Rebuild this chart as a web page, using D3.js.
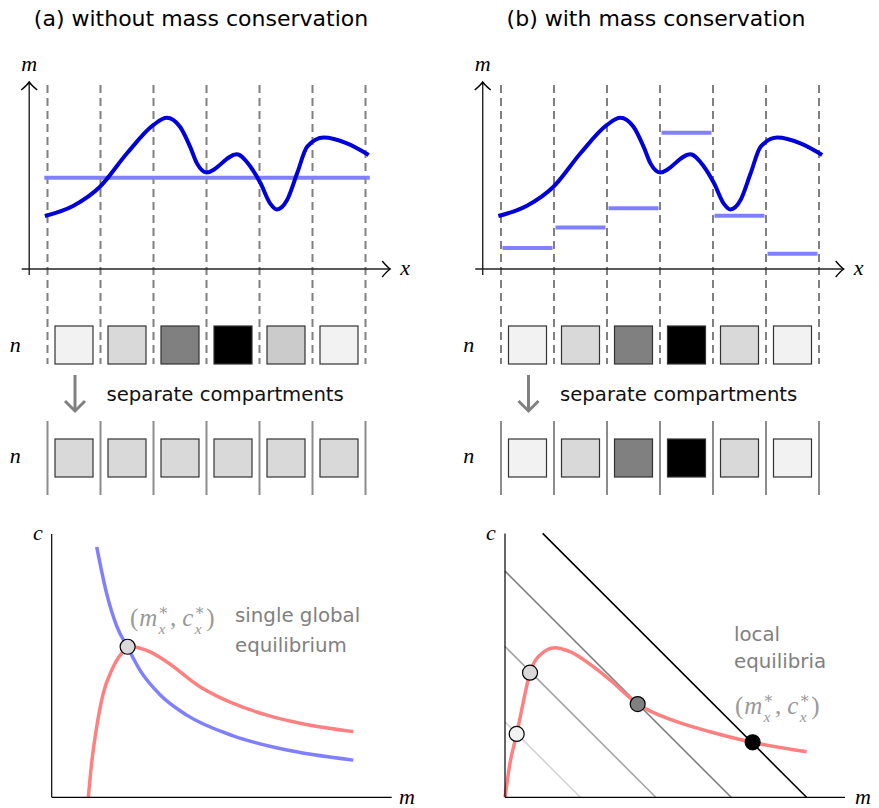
<!DOCTYPE html>
<html>
<head>
<meta charset="utf-8">
<script src="https://cdn.jsdelivr.net/npm/d3@7"></script>
<style>
  body { margin: 0; background: #fff; }
  .sans { font-family: "DejaVu Sans", sans-serif; }
  .math { font-family: "Liberation Serif", "DejaVu Serif", serif; font-style: italic; }
</style>
</head>
<body>
<svg id="chart" width="879" height="808"></svg>
<script>
// ---- data ----
// top row: concentration profile m(x), x in compartment units (0..6)
var profileX = [-0.05, 0.49, 0.99, 1.5, 2.0, 2.25, 2.5, 2.69, 2.82, 3.0, 3.57, 3.83, 4.02, 4.2, 4.33, 4.52, 4.71, 4.9, 5.21, 5.65, 6.06];
var profileM = [28.8, 34.4, 44.7, 62.9, 78.3, 82.2, 77.3, 66.5, 57.4, 52.5, 62.3, 55.6, 46.6, 35.7, 32.4, 37.5, 52, 66.5, 71.4, 68.3, 62];
var globalLevel = 49.6;                              // (a) single level
var localLevels = [11.4, 22.6, 33.0, 74.1, 29.0, 8.3]; // (b) one per compartment

// compartment shades (n)
var shadesA1 = ["#f2f2f2", "#d9d9d9", "#808080", "#000000", "#cbcbcb", "#f2f2f2"];
var shadesA2 = ["#d9d9d9", "#d9d9d9", "#d9d9d9", "#d9d9d9", "#d9d9d9", "#d9d9d9"];
var shadesB1 = ["#f2f2f2", "#d9d9d9", "#808080", "#000000", "#d9d9d9", "#f2f2f2"];
var shadesB2 = ["#f2f2f2", "#d9d9d9", "#808080", "#000000", "#d9d9d9", "#f2f2f2"];

// bottom (a): nullclines in (m, c)
var hypM = [1.5, 1.83, 2.17, 2.53, 2.94, 3.61, 4.5, 6.05, 7.72, 10.05];
var hypC = [8.35, 6.8, 5.7, 5.0, 4.24, 3.42, 2.74, 2.05, 1.6, 1.24];
var redAM = [1.22, 1.33, 1.5, 1.72, 2.0, 2.33, 2.61, 3.28, 3.83, 4.94, 6.05, 7.17, 8.28, 10.05];
var redAC = [0, 1.13, 2.35, 3.47, 4.24, 4.8, 5.02, 4.85, 4.52, 3.69, 3.13, 2.74, 2.47, 2.19];
var eqA = [2.53, 5.02];

// bottom (b): nullcline, mass lines m + c = n, local equilibria
var redBM = [0, 0.066, 0.155, 0.221, 0.332, 0.442, 0.663, 0.862, 1.171, 1.393, 1.76, 2.277, 2.719, 3.285, 4.001];
var redBC = [0, 0.451, 0.84, 1.158, 1.653, 1.865, 1.984, 1.931, 1.732, 1.556, 1.237, 1.003, 0.87, 0.729, 0.605];
var massTotals = [1, 2, 3, 4];
var massColors = ["#d4d4d4", "#a6a6a6", "#7f7f7f", "#000000"];
var eqBM = [0.155, 0.332, 1.76, 3.285];
var eqBC = [0.84, 1.653, 1.237, 0.729];
var eqBFill = ["#f2f2f2", "#d9d9d9", "#808080", "#000000"];

var svg = d3.select("#chart");
var BLUE = "#0000d8", LIGHTBLUE = "#8080ff", RED = "#ff8080", GRAY = "#808080";

// titles
svg.append("text").attr("class", "sans").attr("x", 201).attr("y", 26)
  .attr("text-anchor", "middle").style("font-size", "22px").text("(a) without mass conservation");
svg.append("text").attr("class", "sans").attr("x", 656).attr("y", 26)
  .attr("text-anchor", "middle").style("font-size", "22px").text("(b) with mass conservation");

function arrowHead(g, x, y, dir, color, w) {
  // open latex-like chevron, dir "up" / "right" / "down"
  var p;
  if (dir == "up") p = "M" + (x-8) + "," + (y+8) + " Q" + (x-2) + "," + (y+3) + " " + x + "," + y + " Q" + (x+2) + "," + (y+3) + " " + (x+8) + "," + (y+8);
  else if (dir == "right") p = "M" + (x-8) + "," + (y-8) + " Q" + (x-3) + "," + (y-2) + " " + x + "," + y + " Q" + (x-3) + "," + (y+2) + " " + (x-8) + "," + (y+8);
  else p = "M" + (x-10) + "," + (y-10) + " L" + x + "," + y + " L" + (x+10) + "," + (y-10);
  g.append("path").attr("d", p).attr("fill", "none").attr("stroke", color).attr("stroke-width", w);
}

function topPanel(ox, row1, row2, isB) {
  var g = svg.append("g");
  var x = d3.scaleLinear().domain([0, 6]).range([47.5 + ox, 365.5 + ox]);
  var y = d3.scaleLinear().domain([0, 100]).range([269, 85]);
  var ax = x(-0.345);

  // dashed compartment borders
  g.selectAll("line.dash").data(d3.range(7)).enter().append("line")
    .attr("x1", d => x(d)).attr("x2", d => x(d)).attr("y1", 85).attr("y2", 364)
    .attr("stroke", GRAY).attr("stroke-width", 2).attr("stroke-dasharray", "8,5");

  // axes
  g.append("line").attr("x1", ax).attr("x2", ax).attr("y1", 275).attr("y2", 82)
    .attr("stroke", "#222").attr("stroke-width", 1.4);
  g.append("line").attr("x1", ax - 7.5).attr("x2", ax + 361).attr("y1", y(0)).attr("y2", y(0))
    .attr("stroke", "#222").attr("stroke-width", 1.4);
  arrowHead(g, ax, 82, "up", "#000", 1.4);
  arrowHead(g, ax + 361, y(0), "right", "#000", 1.4);
  g.append("text").attr("class", "math").attr("x", ax).attr("y", 71).attr("text-anchor", "middle")
    .style("font-size", "22px").text("m");
  g.append("text").attr("class", "math").attr("x", ax + 371).attr("y", 275)
    .style("font-size", "22px").text("x");

  // level(s)
  if (!isB) {
    g.append("line").attr("x1", x(-0.06)).attr("x2", x(6.08)).attr("y1", y(globalLevel)).attr("y2", y(globalLevel))
      .attr("stroke", LIGHTBLUE).attr("stroke-width", 4);
  } else {
    g.selectAll("line.lvl").data(localLevels).enter().append("line")
      .attr("x1", (d, i) => x(i) + 1.5).attr("x2", (d, i) => x(i + 1) - 1.5)
      .attr("y1", d => y(d)).attr("y2", d => y(d))
      .attr("stroke", LIGHTBLUE).attr("stroke-width", 4);
  }

  // profile
  var line = d3.line().x(d => x(d[0])).y(d => y(d[1])).curve(d3.curveMonotoneX);
  g.append("path").attr("d", line(d3.zip(profileX, profileM)))
    .attr("fill", "none").attr("stroke", BLUE).attr("stroke-width", 4);

  // n row 1
  var bs = 38;
  g.selectAll("rect.r1").data(row1).enter().append("rect")
    .attr("x", (d, i) => x(i + 0.5) - bs / 2).attr("y", 345 - bs / 2).attr("width", bs).attr("height", bs)
    .attr("fill", d => d).attr("stroke", "#333").attr("stroke-width", 1.2);
  g.append("text").attr("class", "math").attr("x", ax - 14).attr("y", 352).attr("text-anchor", "middle")
    .style("font-size", "22px").text("n");

  // arrow + caption
  var axr = x(0.5) + 1;
  g.append("line").attr("x1", axr).attr("x2", axr).attr("y1", 375).attr("y2", 410)
    .attr("stroke", GRAY).attr("stroke-width", 3);
  arrowHead(g, axr, 411, "down", GRAY, 3);
  g.append("text").attr("class", "sans").attr("x", x(0) + 59).attr("y", 401)
    .style("font-size", "19.7px").attr("fill", "#111").text("separate compartments");

  // n row 2: solid walls
  g.selectAll("line.wall").data(d3.range(7)).enter().append("line")
    .attr("x1", d => x(d)).attr("x2", d => x(d)).attr("y1", 421).attr("y2", 495)
    .attr("stroke", "#8c8c8c").attr("stroke-width", 2);
  g.selectAll("rect.r2").data(row2).enter().append("rect")
    .attr("x", (d, i) => x(i + 0.5) - bs / 2).attr("y", 458 - bs / 2).attr("width", bs).attr("height", bs)
    .attr("fill", d => d).attr("stroke", "#333").attr("stroke-width", 1.2);
  g.append("text").attr("class", "math").attr("x", ax - 14).attr("y", 463).attr("text-anchor", "middle")
    .style("font-size", "22px").text("n");
}

topPanel(0, shadesA1, shadesA2, false);
topPanel(453.5, shadesB1, shadesB2, true);

// (m*_x, c*_x) as one text element; widths measured on a scratch text first
function eqLabel(x0, y0, size, color) {
  var pieces = [["(", "n"], ["m", "i"], ["*"], [",", "n"], ["c", "i"], ["*"], [")", "n"]];
  var scratch = svg.append("text");
  function width(str, fs, fam, st) {
    scratch.style("font-size", fs + "px").style("font-family", fam).style("font-style", st).text(str);
    return scratch.node().getComputedTextLength();
  }
  var serif = "Liberation Serif, serif", small = size * 0.62;
  var t = svg.append("text").attr("fill", color);
  var cx = x0;
  pieces.forEach(function (p) {
    if (p[0] == "*") {
      var w1 = width("\u2217", small, "DejaVu Serif", "normal");
      var w2 = width("x", small, serif, "italic");
      t.append("tspan").attr("x", cx).attr("y", y0 - size * 0.46).style("font-family", "DejaVu Serif")
        .style("font-size", small + "px").text("\u2217");
      t.append("tspan").attr("x", cx + 0.5).attr("y", y0 + size * 0.3).style("font-family", serif)
        .style("font-style", "italic").style("font-size", small + "px").text("x");
      cx += Math.max(w1, w2) + 1.5;
    } else {
      var st = p[1] == "i" ? "italic" : "normal";
      t.append("tspan").attr("x", cx).attr("y", y0).style("font-family", serif).style("font-style", st)
        .style("font-size", size + "px").text(p[0]);
      cx += width(p[0], size, serif, st) + (p[0] == "," ? 6 : 0.8);
    }
  });
  scratch.remove();
}

// ---- bottom (a) ----
(function () {
  var x = d3.scaleLinear().domain([0, 11.33]).range([51.7, 391.7]);
  var y = d3.scaleLinear().domain([0, 8.78]).range([797.3, 534]);
  var g = svg.append("g");
  var line = d3.line().x(d => x(d[0])).y(d => y(d[1])).curve(d3.curveMonotoneX);
  g.append("path").attr("d", line(d3.zip(hypM, hypC))).attr("fill", "none")
    .attr("stroke", LIGHTBLUE).attr("stroke-width", 3.5);
  g.append("path").attr("d", line(d3.zip(redAM, redAC))).attr("fill", "none")
    .attr("stroke", RED).attr("stroke-width", 3.5);
  g.append("line").attr("x1", x(0)).attr("x2", x(0)).attr("y1", y(8.78)).attr("y2", y(0)).attr("stroke", "#000").attr("stroke-width", 1.2);
  g.append("line").attr("x1", x(0)).attr("x2", x(11.33)).attr("y1", y(0)).attr("y2", y(0)).attr("stroke", "#000").attr("stroke-width", 1.2);
  g.append("circle").attr("cx", x(eqA[0])).attr("cy", y(eqA[1])).attr("r", 7.5)
    .attr("fill", "#d9d9d9").attr("stroke", "#000").attr("stroke-width", 1.2);
  g.append("text").attr("class", "math").attr("x", 38).attr("y", 540).attr("text-anchor", "middle").style("font-size", "22px").text("c");
  g.append("text").attr("class", "math").attr("x", 399).attr("y", 804).style("font-size", "22px").text("m");
  g.append("text").attr("class", "sans").attr("x", 235).attr("y", 622).attr("fill", GRAY).style("font-size", "19.8px").text("single global");
  g.append("text").attr("class", "sans").attr("x", 235).attr("y", 652).attr("fill", GRAY).style("font-size", "19.8px").text("equilibrium");
  eqLabel(130, 626, 25, "#999");
})();

// ---- bottom (b) ----
(function () {
  var x = d3.scaleLinear().domain([0, 4.51]).range([505, 845]);
  var y = d3.scaleLinear().domain([0, 3.5]).range([797.3, 533.4]);
  var g = svg.append("g");
  g.selectAll("line.mass").data(massTotals).enter().append("line")
    .attr("x1", d => x(Math.max(0, d - 3.5))).attr("y1", d => y(Math.min(d, 3.5)))
    .attr("x2", d => x(d)).attr("y2", y(0))
    .attr("stroke", (d, i) => massColors[i]).attr("stroke-width", 1.6);
  var line = d3.line().x(d => x(d[0])).y(d => y(d[1])).curve(d3.curveMonotoneX);
  g.append("path").attr("d", line(d3.zip(redBM, redBC))).attr("fill", "none")
    .attr("stroke", RED).attr("stroke-width", 3.5);
  g.append("line").attr("x1", x(0)).attr("x2", x(0)).attr("y1", y(3.5)).attr("y2", y(0)).attr("stroke", "#000").attr("stroke-width", 1.2);
  g.append("line").attr("x1", x(0)).attr("x2", x(4.51)).attr("y1", y(0)).attr("y2", y(0)).attr("stroke", "#000").attr("stroke-width", 1.2);
  g.selectAll("circle.eq").data(eqBM).enter().append("circle")
    .attr("cx", d => x(d)).attr("cy", (d, i) => y(eqBC[i])).attr("r", 7.5)
    .attr("fill", (d, i) => eqBFill[i]).attr("stroke", "#000").attr("stroke-width", 1.2);
  g.append("text").attr("class", "math").attr("x", 491).attr("y", 540).attr("text-anchor", "middle").style("font-size", "22px").text("c");
  g.append("text").attr("class", "math").attr("x", 855).attr("y", 804).style("font-size", "22px").text("m");
  g.append("text").attr("class", "sans").attr("x", 734).attr("y", 641).attr("fill", GRAY).style("font-size", "19.8px").text("local");
  g.append("text").attr("class", "sans").attr("x", 734).attr("y", 668).attr("fill", GRAY).style("font-size", "19.8px").text("equilibria");
  eqLabel(735, 714, 25, "#999");
})();
</script>
</body>
</html>
